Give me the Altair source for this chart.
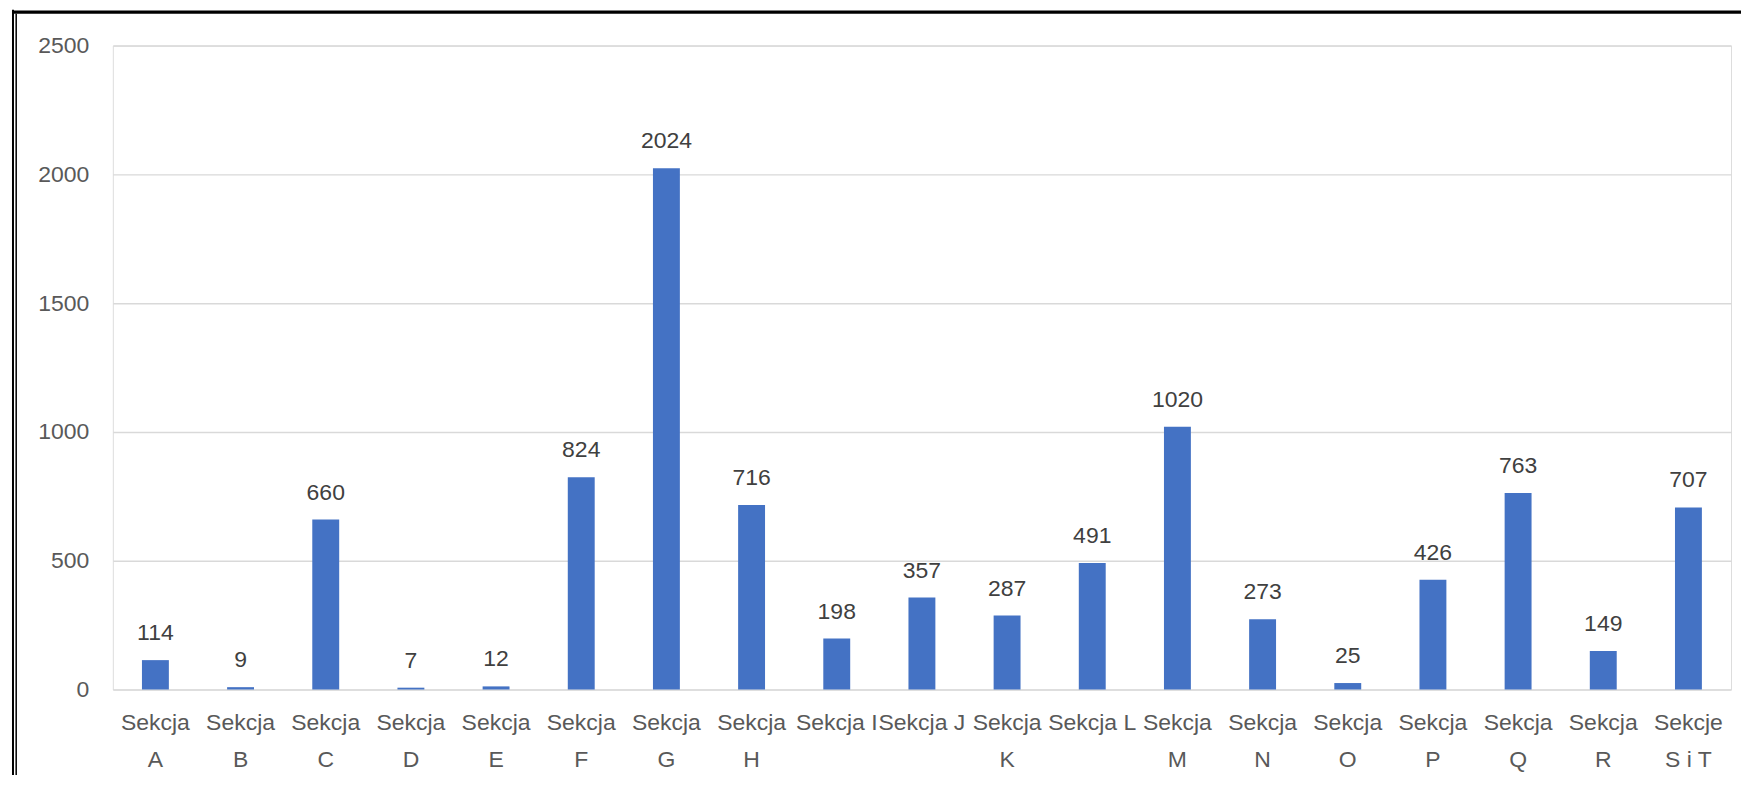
import altair as alt
import pandas as pd

categories = ["Sekcja A", "Sekcja B", "Sekcja C", "Sekcja D", "Sekcja E", "Sekcja F",
              "Sekcja G", "Sekcja H", "Sekcja I", "Sekcja J", "Sekcja K", "Sekcja L",
              "Sekcja M", "Sekcja N", "Sekcja O", "Sekcja P", "Sekcja Q", "Sekcja R",
              "Sekcje S i T"]
values = [114, 9, 660, 7, 12, 824, 2024, 716, 198, 357, 287, 491, 1020, 273, 25, 426, 763, 149, 707]
y_ticks = [0, 500, 1000, 1500, 2000, 2500]
single_line = ["Sekcja I", "Sekcja J", "Sekcja L"]

df = pd.DataFrame({"cat": categories, "val": values})

FONT = "Liberation Sans"
single_js = "[" + ",".join("'" + s + "'" for s in single_line) + "]"
label_expr = (
    f"indexof({single_js}, datum.label) >= 0 ? datum.label : "
    "[substring(datum.label, 0, indexof(datum.label, ' ')), "
    "substring(datum.label, indexof(datum.label, ' ') + 1)]"
)

x = alt.X("cat:N", sort=categories, title=None,
          scale=alt.Scale(paddingInner=0.684, paddingOuter=0.342),
          axis=alt.Axis(labelAngle=0, labelFont=FONT, labelFontSize=23,
                        labelColor="#595959", labelPadding=22, tickSize=0,
                        ticks=False, domain=False, grid=False,
                        labelExpr=label_expr, labelLineHeight=37,
                        labelBaseline="top"))
y = alt.Y("val:Q", title=None,
          scale=alt.Scale(domain=[0, 2500], nice=False),
          axis=alt.Axis(values=y_ticks, format="d", labelFont=FONT, labelFontSize=23,
                        labelColor="#595959", labelPadding=24, ticks=False,
                        tickSize=0, domain=False, gridColor="#d9d9d9",
                        gridWidth=1.5))

base = alt.Chart(df)
bars = base.mark_bar(color="#4472C4").encode(x=x, y=y)
labels = base.mark_text(font=FONT, fontSize=23, color="#404040",
                        baseline="alphabetic", dy=-20).encode(
    x=alt.X("cat:N", sort=categories), y="val:Q", text=alt.Text("val:Q", format="d"))

frame_data = alt.Data(values=[{"k": 1}])
left_outer = alt.Chart(frame_data).mark_rule(color="black", strokeWidth=2).encode(
    x=alt.value(-100), y=alt.value(-36), y2=alt.value(800))
left_inner = alt.Chart(frame_data).mark_rule(color="black", strokeWidth=1.5).encode(
    x=alt.value(-96.8), y=alt.value(-32), y2=alt.value(800))
top_line = alt.Chart(frame_data).mark_rule(color="black", strokeWidth=3.2).encode(
    x=alt.value(-101), x2=alt.value(1700), y=alt.value(-33.5))

chart = alt.layer(bars, labels, left_outer, left_inner, top_line).properties(
    width=1621, height=645,
    autosize=alt.AutoSizeParams(type="none"),
    padding={"left": 105, "top": 37, "right": 10, "bottom": 85},
).configure_view(stroke=None).configure(background="white")

chart.save("out.html", embed_options={"renderer": "svg", "actions": False})
